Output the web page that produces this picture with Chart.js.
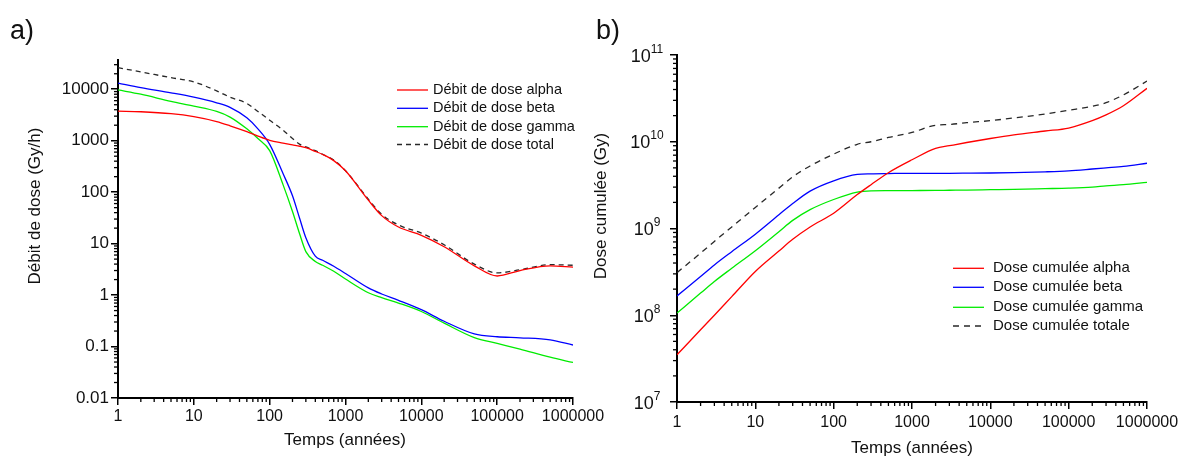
<!DOCTYPE html>
<html>
<head>
<meta charset="utf-8">
<script src="https://cdn.jsdelivr.net/npm/chart.js@4.4.1/dist/chart.umd.min.js"></script>
<style>
html,body{margin:0;padding:0;background:#fff;width:1183px;height:457px;overflow:hidden}
#ca{position:absolute;left:0;top:0}
#cb{position:absolute;left:585px;top:0}
</style>
</head>
<body>
<canvas id="ca" width="615" height="457"></canvas>
<canvas id="cb" width="598" height="457"></canvas>
<script>
// ---------- Data: a) Débit de dose ----------
const yearsA = [1, 2, 5, 10, 20, 30, 50, 70, 100, 150, 200, 250, 300, 400, 500, 700, 1000, 2000, 3000, 5000, 10000, 20000, 50000, 100000, 200000, 500000, 1000000];
const debitAlpha = [3750, 3650, 3350, 2930, 2350, 1950, 1500, 1230, 1020, 900, 830, 780, 730, 620, 540, 410, 260, 70, 35, 21, 14.5, 8.7, 3.7, 2.35, 3.0, 3.7, 3.5];
const debitBeta = [13100, 10700, 8500, 7000, 5450, 4450, 2780, 1700, 850, 230, 85, 30, 13, 5.7, 4.75, 3.64, 2.63, 1.38, 1.05, 0.79, 0.52, 0.31, 0.176, 0.155, 0.148, 0.135, 0.107];
const debitGamma = [9700, 8000, 5800, 4700, 3700, 2880, 1700, 1100, 640, 140, 42, 15, 7, 4.5, 3.8, 2.9, 2.05, 1.11, 0.89, 0.70, 0.48, 0.285, 0.149, 0.115, 0.089, 0.062, 0.049];
const debitTotal = [26300, 21700, 16800, 13900, 9300, 7000, 5300, 3700, 2500, 1600, 1100, 850, 760, 640, 545, 420, 260, 73, 37, 23, 16, 9.5, 4.0, 2.7, 3.1, 3.9, 3.8];
const labelsA = ['Débit de dose alpha', 'Débit de dose beta', 'Débit de dose gamma', 'Débit de dose total'];
const xTicks = [1, 10, 100, 1000, 10000, 100000, 1000000];
const xTickLabels = ['1', '10', '100', '1000', '10000', '100000', '1000000'];
const yTicksA = [0.01, 0.1, 1, 10, 100, 1000, 10000];
const yTickLabelsA = ['0.01', '0.1', '1', '10', '100', '1000', '10000'];

// ---------- Data: b) Dose cumulée ----------
const yearsB = [1, 2, 3, 5, 10, 20, 30, 50, 100, 200, 300, 500, 1000, 2000, 3000, 5000, 10000, 20000, 50000, 100000, 200000, 300000, 500000, 1000000];
const doseAlpha = [3.5e7, 6.8e7, 1.0e8, 1.64e8, 3.2e8, 5.5e8, 7.5e8, 1.04e9, 1.5e9, 2.46e9, 3.2e9, 4.4e9, 6.2e9, 8.4e9, 9.0e9, 9.8e9, 1.09e10, 1.2e10, 1.33e10, 1.44e10, 1.75e10, 2.04e10, 2.6e10, 4.13e10];
const doseBeta = [1.67e8, 2.8e8, 3.8e8, 5.4e8, 8.6e8, 1.44e9, 1.94e9, 2.7e9, 3.55e9, 4.2e9, 4.27e9, 4.3e9, 4.33e9, 4.33e9, 4.33e9, 4.34e9, 4.36e9, 4.4e9, 4.5e9, 4.62e9, 4.85e9, 5.0e9, 5.2e9, 5.65e9];
const doseGamma = [1.06e8, 1.8e8, 2.45e8, 3.48e8, 5.55e8, 9.2e8, 1.24e9, 1.65e9, 2.16e9, 2.63e9, 2.72e9, 2.73e9, 2.74e9, 2.75e9, 2.76e9, 2.77e9, 2.8e9, 2.83e9, 2.88e9, 2.92e9, 3.0e9, 3.1e9, 3.2e9, 3.41e9];
const doseTotal = [3.1e8, 5.2e8, 7.1e8, 1.04e9, 1.75e9, 2.92e9, 3.94e9, 5.26e9, 7.2e9, 9.35e9, 1.0e10, 1.12e10, 1.28e10, 1.55e10, 1.58e10, 1.66e10, 1.75e10, 1.88e10, 2.09e10, 2.31e10, 2.56e10, 2.82e10, 3.47e10, 5.0e10];
const labelsB = ['Dose cumulée alpha', 'Dose cumulée beta', 'Dose cumulée gamma', 'Dose cumulée totale'];
const yTicksB = [1e7, 1e8, 1e9, 1e10, 1e11];
const yTickExpB = ['7', '8', '9', '10', '11'];

// ---------- Styling ----------
const FONT = "'Liberation Sans', Arial, sans-serif";
const RED = 'rgb(255,0,0)', BLUE = 'rgb(0,0,255)', GREEN = 'rgb(0,235,0)', DARK = 'rgb(40,40,40)';
Chart.defaults.font.family = FONT;
Chart.defaults.color = '#000';

const pts = (xs, ys) => xs.map((x, i) => ({x: x, y: ys[i]}));
function ds(label, xs, ys, color, dash) {
  return {label: label, data: pts(xs, ys), borderColor: color, backgroundColor: color,
    borderWidth: 1.3, pointRadius: 0, fill: false, cubicInterpolationMode: 'monotone',
    borderDash: dash || []};
}
function zeroPad(s) { s.paddingLeft = 0; s.paddingRight = 0; s.paddingTop = 0; s.paddingBottom = 0; }

function logAxis(cfg) {
  return {
    type: 'logarithmic', position: cfg.position, min: cfg.min, max: cfg.max,
    afterBuildTicks: s => { s.ticks = cfg.ticks.map(v => ({value: v})); },
    afterFit: s => { zeroPad(s); if (cfg.width !== undefined) s.width = cfg.width; if (cfg.height !== undefined) s.height = cfg.height; },
    grid: {display: true, drawOnChartArea: false, drawTicks: true, tickLength: 7, color: '#000', lineWidth: 1.5},
    border: {display: true, color: '#000', width: 2},
    ticks: {display: cfg.labels !== null, autoSkip: false, maxRotation: 0, minRotation: 0,
      padding: cfg.padding, font: {size: cfg.fontSize, family: FONT}, color: '#111',
      callback: (v, i) => cfg.labels ? cfg.labels[i] : ''},
    title: {display: false}
  };
}

function overlayPlugin(o) {
  return {
    id: 'overlay',
    afterDraw(chart) {
      const ctx = chart.ctx, a = chart.chartArea;
      ctx.save();
      // minor ticks
      ctx.strokeStyle = '#000'; ctx.lineWidth = 1.3;
      ['x', 'y'].forEach(id => {
        const s = chart.scales[id];
        const lo = Math.floor(Math.log10(s.min)), hi = Math.ceil(Math.log10(s.max));
        for (let e = lo; e < hi; e++) {
          for (let k = 2; k <= 9; k++) {
            const v = k * Math.pow(10, e);
            if (v < s.min || v > s.max) continue;
            const p = s.getPixelForValue(v);
            ctx.beginPath();
            if (id === 'x') { ctx.moveTo(p, a.bottom); ctx.lineTo(p, a.bottom + 4); }
            else { ctx.moveTo(a.left, p); ctx.lineTo(a.left - 4, p); }
            ctx.stroke();
          }
        }
      });
      // superscript y labels
      if (o.expLabels) {
        const s = chart.scales.y;
        s.ticks.forEach((t, i) => {
          const p = s.getPixelForValue(t.value);
          ctx.font = '18px ' + FONT; const wb = ctx.measureText('10').width;
          ctx.font = '12px ' + FONT; const we = ctx.measureText(o.expLabels[i]).width;
          const x0 = o.expCenter - (wb + we) / 2;
          ctx.fillStyle = '#111'; ctx.textAlign = 'left'; ctx.textBaseline = 'alphabetic';
          ctx.font = '18px ' + FONT; ctx.fillText('10', x0, p + 6.5);
          ctx.font = '12px ' + FONT; ctx.fillText(o.expLabels[i], x0 + wb, p - 2.5);
        });
      }
      // axis titles
      ctx.fillStyle = '#111'; ctx.font = '17px ' + FONT; ctx.textAlign = 'center'; ctx.textBaseline = 'middle';
      ctx.fillText(o.xTitle, o.xTitlePos[0], o.xTitlePos[1]);
      ctx.save(); ctx.translate(o.yTitlePos[0], o.yTitlePos[1]); ctx.rotate(-Math.PI / 2);
      ctx.fillText(o.yTitle, 0, 0); ctx.restore();
      // panel letter
      ctx.font = '27px ' + FONT; ctx.textAlign = 'left'; ctx.textBaseline = 'alphabetic';
      ctx.fillText(o.panel, o.panelPos[0], o.panelPos[1]);
      // legend
      chart.data.datasets.forEach((d, i) => {
        const y = o.legend.ys[i];
        ctx.strokeStyle = d.borderColor; ctx.lineWidth = 1.3; ctx.setLineDash(d.borderDash || []);
        ctx.beginPath(); ctx.moveTo(o.legend.x0, y); ctx.lineTo(o.legend.x1, y); ctx.stroke();
        ctx.setLineDash([]);
        ctx.fillStyle = '#111'; ctx.font = o.legend.font + 'px ' + FONT; ctx.textAlign = 'left'; ctx.textBaseline = 'middle';
        ctx.fillText(d.label, o.legend.tx, y);
      });
      ctx.restore();
    }
  };
}

// ---------- Chart a ----------
new Chart(document.getElementById('ca'), {
  type: 'line',
  data: {datasets: [
    ds(labelsA[0], yearsA, debitAlpha, RED),
    ds(labelsA[1], yearsA, debitBeta, BLUE),
    ds(labelsA[2], yearsA, debitGamma, GREEN),
    ds(labelsA[3], yearsA, debitTotal, DARK, [5, 4])
  ]},
  options: {
    responsive: false, animation: false, devicePixelRatio: 1,
    layout: {padding: {left: 0, top: 60, right: 42, bottom: 0}},
    plugins: {legend: {display: false}, tooltip: {enabled: false}},
    scales: {
      x: logAxis({position: 'bottom', min: 1, max: 1000000, ticks: xTicks, labels: xTickLabels, height: 59, padding: 2, fontSize: 16}),
      y: logAxis({position: 'left', min: 0.01, max: 37000, ticks: yTicksA, labels: yTickLabelsA, width: 118, padding: 2, fontSize: 17})
    }
  },
  plugins: [overlayPlugin({
    xTitle: 'Temps (années)', xTitlePos: [345, 440],
    yTitle: 'Débit de dose (Gy/h)', yTitlePos: [35, 206],
    panel: 'a)', panelPos: [10, 39],
    legend: {x0: 397, x1: 428, tx: 433, ys: [90, 108.3, 126.7, 144.5], font: 14.5}
  })]
});

// ---------- Chart b ----------
new Chart(document.getElementById('cb'), {
  type: 'line',
  data: {datasets: [
    ds(labelsB[0], yearsB, doseAlpha, RED),
    ds(labelsB[1], yearsB, doseBeta, BLUE),
    ds(labelsB[2], yearsB, doseGamma, GREEN),
    ds(labelsB[3], yearsB, doseTotal, DARK, [6, 5])
  ]},
  options: {
    responsive: false, animation: false, devicePixelRatio: 1,
    layout: {padding: {left: 0, top: 55, right: 36, bottom: 0}},
    plugins: {legend: {display: false}, tooltip: {enabled: false}},
    scales: {
      x: logAxis({position: 'bottom', min: 1, max: 1000000, ticks: xTicks, labels: xTickLabels, height: 55, padding: 4, fontSize: 16}),
      y: logAxis({position: 'left', min: 1e7, max: 1e11, ticks: yTicksB, labels: null, width: 92, padding: 0, fontSize: 17})
    }
  },
  plugins: [overlayPlugin({
    expLabels: yTickExpB, expCenter: 62,
    xTitle: 'Temps (années)', xTitlePos: [327, 448],
    yTitle: 'Dose cumulée (Gy)', yTitlePos: [16, 206],
    panel: 'b)', panelPos: [11, 39],
    legend: {x0: 368, x1: 399, tx: 408, ys: [268.3, 287.3, 307.3, 326], font: 15}
  })]
});
</script>
</body>
</html>
